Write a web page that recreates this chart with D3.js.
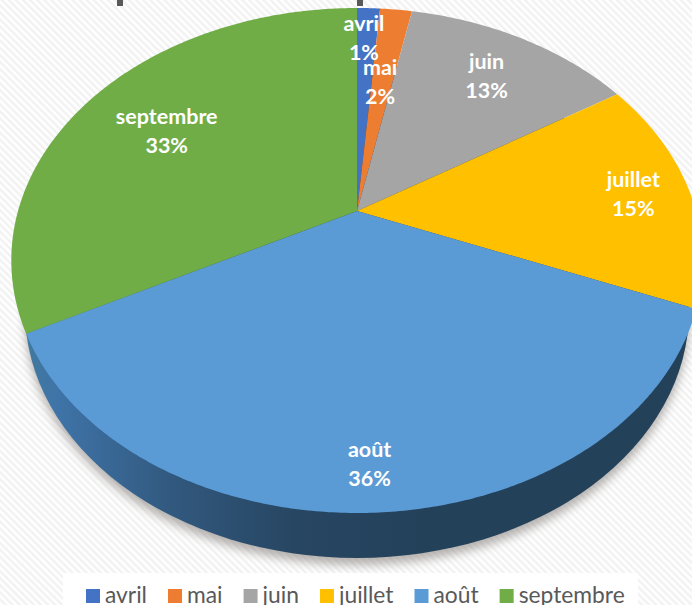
<!DOCTYPE html>
<html lang="fr">
<head>
<meta charset="utf-8">
<script src="https://cdn.jsdelivr.net/npm/d3@7"></script>
<style>
  html, body { margin: 0; padding: 0; background: #fff; overflow: hidden; }
  svg { display: block; }
  text { font-family: Lato, "Open Sans", sans-serif; }
</style>
</head>
<body>
<div id="chart"></div>
<script>
const months = ["avril", "mai", "juin", "juillet", "août", "septembre"];
const shares = [1.3, 1.8, 13, 15, 36.3, 32.6];
const percentLabels = ["1%", "2%", "13%", "15%", "36%", "33%"];
const colors = ["#4472c4", "#ed7d31", "#a5a5a5", "#ffc000", "#5b9bd5", "#70ad47"];
// how far out each label sits, as a share of the radius, and how far it was dragged off the slice middle (degrees)
const labelRadius = [0.83, 0.6, 0.756, 0.83, 0.866, 0.695];
const labelTurn = [-0.7, -0.63, 0, 0, 0.65, -1];

const width = 692;
const height = 605;
const center = {x: 357, y: 211};

// the disc is seen in perspective, so its centre is not the middle of the ellipse
const tilt = 0.196;
const scaleX = 339;
const scaleY = 242.8;
function project(angle, r) {
    const u = r * Math.sin(angle);
    const v = r * Math.cos(angle);
    const den = 1 + tilt * v;
    return [center.x + scaleX * u / den, center.y - scaleY * v / den];
}

const svg = d3.select("#chart").append("svg")
    .attr("width", width)
    .attr("height", height)
    .attr("viewBox", [0, 0, width, height]);

const defs = svg.append("defs");

const stripes = defs.append("pattern")
    .attr("id", "stripes")
    .attr("width", 5)
    .attr("height", 5)
    .attr("patternUnits", "userSpaceOnUse")
    .attr("patternTransform", "rotate(-45)");
stripes.append("rect").attr("width", 5).attr("height", 5).attr("fill", "#ffffff");
stripes.append("rect").attr("width", 2.5).attr("height", 5).attr("fill", "#f2f2f2");

const sideGradient = defs.append("linearGradient")
    .attr("id", "side")
    .attr("gradientUnits", "userSpaceOnUse")
    .attr("x1", 30).attr("x2", 692).attr("y1", 0).attr("y2", 0);
sideGradient.selectAll("stop")
    .data([["0%", "#41789f"], ["4%", "#3f74a8"], ["22%", "#31587d"], ["40%", "#274662"], ["60%", "#24415a"], ["100%", "#24415a"]])
    .join("stop")
    .attr("offset", d => d[0])
    .attr("stop-color", d => d[1]);

defs.append("filter")
    .attr("id", "blur")
    .attr("x", "-10%").attr("y", "-10%").attr("width", "120%").attr("height", "120%")
    .append("feGaussianBlur")
    .attr("stdDeviation", 5);

// background
svg.append("rect")
    .attr("width", width)
    .attr("height", height)
    .attr("fill", "url(#stripes)");

// the two bits of the cropped title that still show at the top
svg.selectAll(".titleBit")
    .data([120, 360])
    .join("rect")
    .attr("class", "titleBit")
    .attr("x", d => d - 3)
    .attr("y", 0)
    .attr("width", 6)
    .attr("height", 6)
    .attr("fill", "#595959");

// side of the pie: a slightly smaller ellipse, lower down
const depth = {cx: 357, cy: 311, rx: 332, ry: 247};

svg.append("ellipse")
    .attr("cx", depth.cx)
    .attr("cy", depth.cy + 7)
    .attr("rx", depth.rx)
    .attr("ry", depth.ry)
    .attr("fill", "#8f8a86")
    .attr("opacity", 0.65)
    .attr("filter", "url(#blur)");

svg.append("ellipse")
    .attr("cx", depth.cx)
    .attr("cy", depth.cy)
    .attr("rx", depth.rx)
    .attr("ry", depth.ry)
    .attr("fill", "url(#side)");

// top face
const pie = d3.pie().sort(null)(shares);
const line = d3.line();

function slicePath(d) {
    const steps = Math.max(2, Math.ceil((d.endAngle - d.startAngle) / 0.01));
    const pts = d3.range(steps + 1).map(i =>
        project(d.startAngle + (d.endAngle - d.startAngle) * i / steps, 1));
    return line([[center.x, center.y], ...pts]) + "Z";
}

svg.append("g")
    .selectAll("path")
    .data(pie)
    .join("path")
    .attr("d", slicePath)
    .attr("fill", (d, i) => colors[i]);

// labels
const labels = svg.append("g")
    .selectAll("text")
    .data(pie)
    .join("text")
    .attr("transform", (d, i) => {
        const a = (d.startAngle + d.endAngle) / 2 + labelTurn[i] * Math.PI / 180;
        const p = project(a, labelRadius[i]);
        return `translate(${p[0]},${p[1]})`;
    })
    .attr("text-anchor", "middle")
    .attr("fill", "#ffffff")
    .attr("font-size", 21.5)
    .attr("font-weight", "bold");
labels.append("tspan")
    .attr("x", 0)
    .attr("y", -7)
    .text((d, i) => months[i]);
labels.append("tspan")
    .attr("x", 0)
    .attr("y", 22)
    .text((d, i) => percentLabels[i]);

// legend
svg.append("rect")
    .attr("x", 63)
    .attr("y", 573)
    .attr("width", 575)
    .attr("height", 32)
    .attr("fill", "#ffffff")
    .attr("opacity", 0.92);

const legend = svg.append("g");
let cursor = 86;
months.forEach((m, i) => {
    legend.append("rect")
        .attr("x", cursor)
        .attr("y", 589)
        .attr("width", 14)
        .attr("height", 14)
        .attr("fill", colors[i]);
    const t = legend.append("text")
        .attr("x", cursor + 19)
        .attr("y", 603)
        .attr("font-size", 22.8)
        .attr("fill", "#595959")
        .text(m);
    cursor += 19 + t.node().getComputedTextLength() + 21;
});
</script>
</body>
</html>
